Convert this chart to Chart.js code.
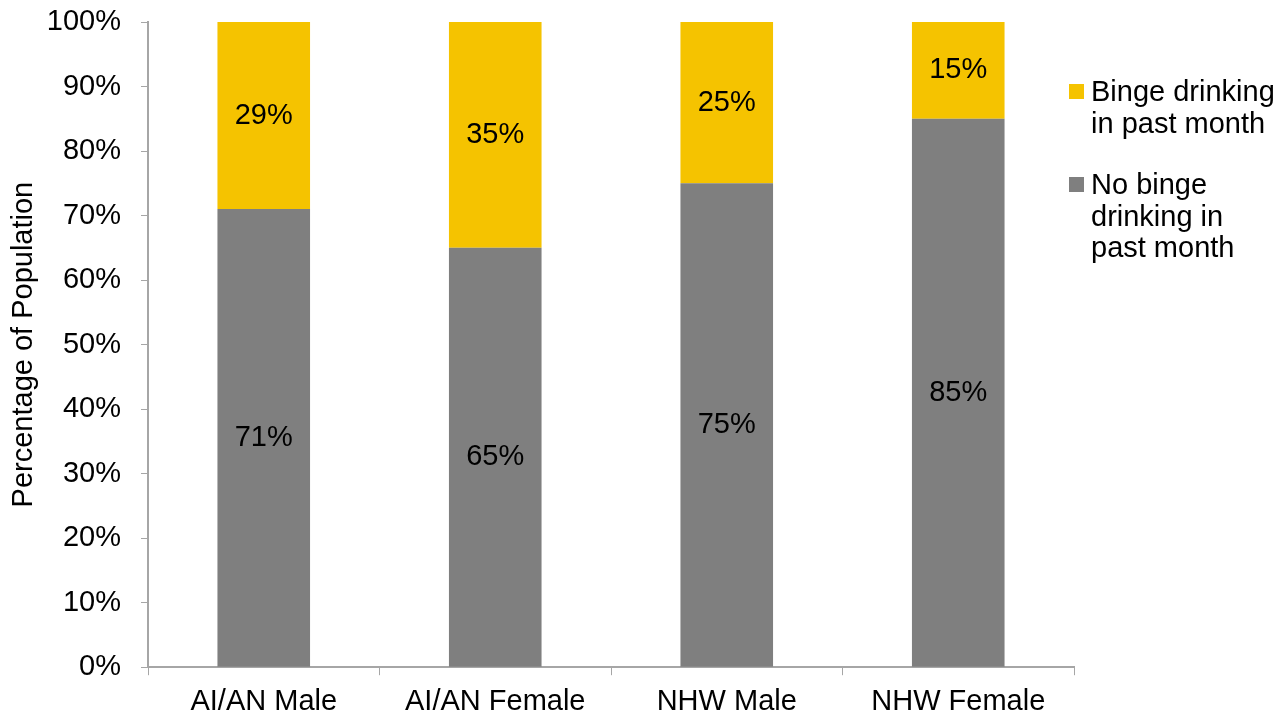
<!DOCTYPE html>
<html>
<head>
<meta charset="utf-8">
<script src="https://cdn.jsdelivr.net/npm/chart.js@4.4.0/dist/chart.umd.min.js"></script>
<style>
  html, body { margin: 0; padding: 0; background: #fff; }
  #wrap { width: 1285px; height: 719px; }
</style>
</head>
<body>
<div id="wrap"><canvas id="chart" width="1285" height="719"></canvas></div>
<script>
// datos del gráfico
const categories = ['AI/AN Male', 'AI/AN Female', 'NHW Male', 'NHW Female'];
const noBinge = [71, 65, 75, 85];
const binge = [29, 35, 25, 15];
const legendLabels = [
    ['Binge drinking', 'in past month'],
    ['No binge', 'drinking in', 'past month']
];
const yTicks = [0, 10, 20, 30, 40, 50, 60, 70, 80, 90, 100];

const FONT = '"Liberation Sans", Arial, sans-serif';
const FS = 29;
const GRAY = '#7f7f7f';
const YELLOW = '#f5c300';
const AXIS = '#a6a6a6';

// etiquetas de valor dentro de las barras
const valueLabels = {
    id: 'valueLabels',
    afterDatasetsDraw(chart) {
        const ctx = chart.ctx;
        ctx.save();
        ctx.font = FS + 'px ' + FONT;
        ctx.fillStyle = '#000';
        ctx.textAlign = 'center';
        ctx.textBaseline = 'middle';
        chart.data.datasets.forEach((ds, i) => {
            chart.getDatasetMeta(i).data.forEach((bar, j) => {
                const mid = (bar.y + bar.base) / 2;
                ctx.fillText(ds.data[j] + '%', bar.x, mid);
            });
        });
        ctx.restore();
    }
};

// leyenda a la derecha con texto en varias líneas
const sideLegend = {
    id: 'sideLegend',
    afterDraw(chart) {
        const ctx = chart.ctx;
        const colors = [YELLOW, GRAY];
        const tops = [84, 177];
        ctx.save();
        ctx.font = FS + 'px ' + FONT;
        ctx.textAlign = 'left';
        ctx.textBaseline = 'alphabetic';
        legendLabels.forEach((lines, i) => {
            ctx.fillStyle = colors[i];
            ctx.fillRect(1069, tops[i], 15, 15);
            ctx.fillStyle = '#000';
            lines.forEach((t, k) => {
                ctx.fillText(t, 1091, tops[i] + 17 + k * 31.5);
            });
        });
        ctx.restore();
    }
};

new Chart(document.getElementById('chart'), {
    type: 'bar',
    data: {
        labels: categories,
        datasets: [
            { label: 'No binge drinking in past month', data: noBinge, backgroundColor: GRAY, barPercentage: 0.4, categoryPercentage: 1 },
            { label: 'Binge drinking in past month', data: binge, backgroundColor: YELLOW, barPercentage: 0.4, categoryPercentage: 1 }
        ]
    },
    options: {
        responsive: false,
        animation: false,
        layout: { padding: { top: 22, right: 211, left: 0, bottom: -9 } },
        plugins: {
            legend: { display: false },
            tooltip: { enabled: false }
        },
        scales: {
            x: {
                stacked: true,
                grid: { display: true, drawOnChartArea: false, drawTicks: true, tickLength: 8, color: AXIS, offset: true },
                border: { color: AXIS, width: 2 },
                ticks: { color: '#000', font: { family: FONT, size: FS, lineHeight: 1.2 }, padding: 9, maxRotation: 0 }
            },
            y: {
                stacked: true,
                min: 0,
                max: 100,
                afterBuildTicks(axis) {
                    axis.ticks = yTicks.map(v => ({ value: v }));
                },
                afterFit(axis) {
                    axis.width = 148;
                    axis.paddingTop = 0;
                    axis.paddingBottom = 0;
                },
                grid: { display: true, drawOnChartArea: false, drawTicks: true, tickLength: 7, color: AXIS },
                border: { color: AXIS, width: 2 },
                ticks: {
                    color: '#000',
                    font: { family: FONT, size: FS, lineHeight: 1 },
                    padding: 20,
                    callback: v => v + '%'
                },
                title: {
                    display: true,
                    text: 'Percentage of Population',
                    color: '#000',
                    font: { family: FONT, size: FS, lineHeight: 1.2 },
                    padding: { top: 7, bottom: 0 }
                }
            }
        }
    },
    plugins: [valueLabels, sideLegend]
});
</script>
</body>
</html>
